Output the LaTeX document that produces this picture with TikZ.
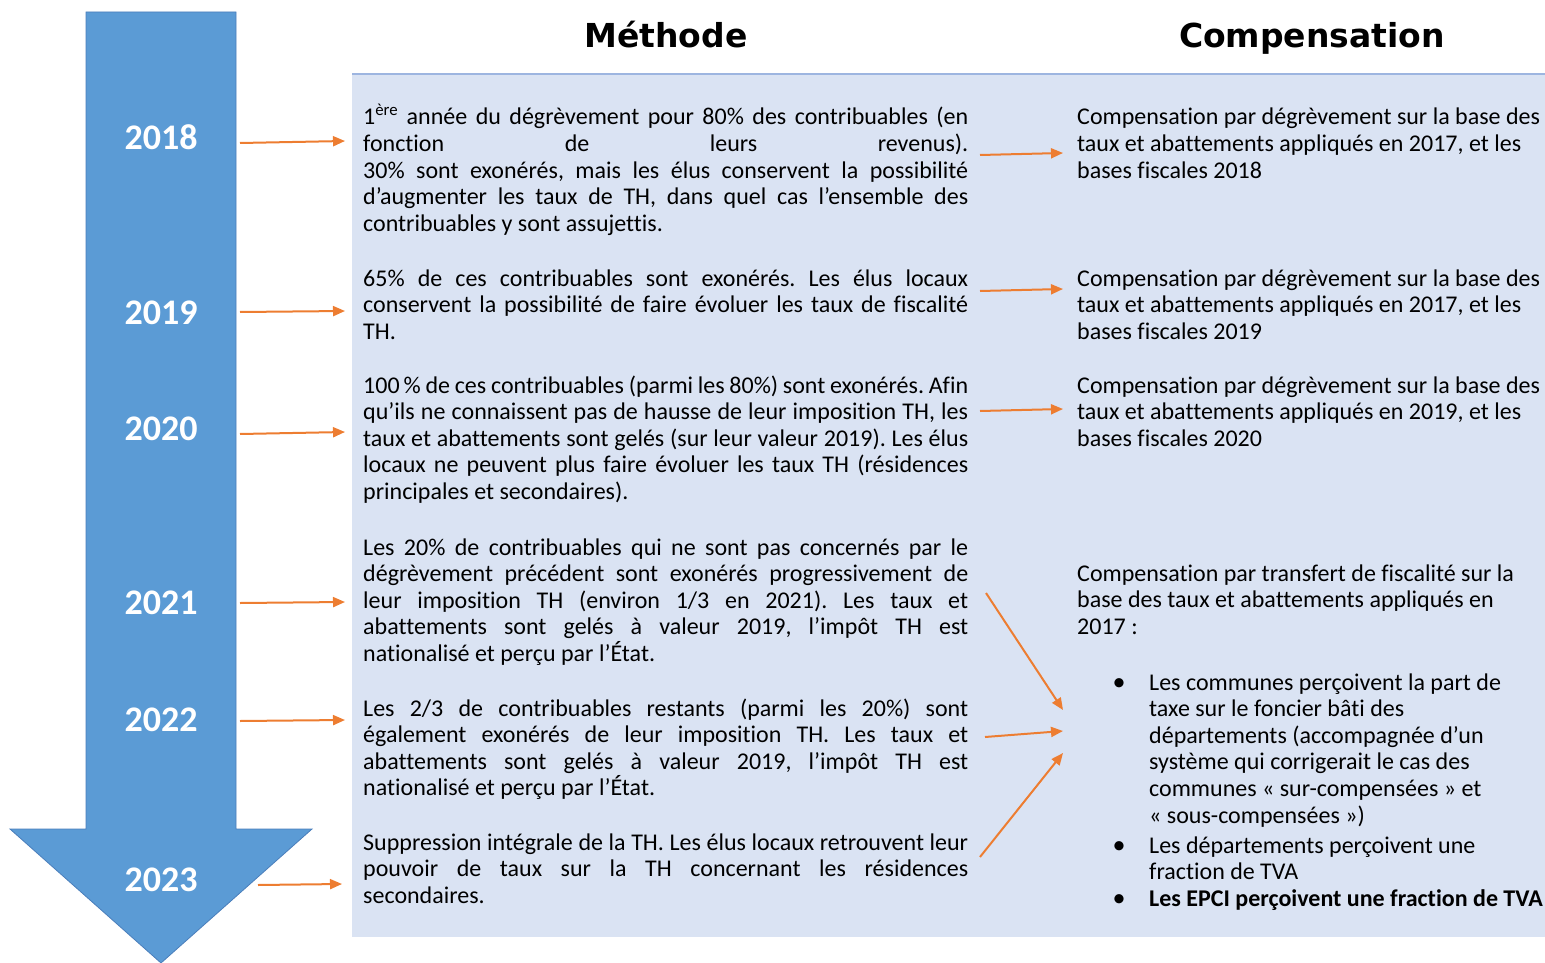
\documentclass[tikz,border=0pt]{standalone}
\usepackage{fontspec}
\setmainfont{Carlito}[Ligatures=NoCommon]
\newfontfamily\titlefont{DejaVu Sans}
\usetikzlibrary{arrows.meta}
\definecolor{arrowblue}{HTML}{5B9BD5}
\definecolor{arrowedge}{HTML}{4A7EBB}
\definecolor{panel}{HTML}{DAE3F3}
\definecolor{panelline}{HTML}{9DB5E0}
\definecolor{orangearr}{HTML}{ED7D31}
\newcommand\jl[1]{\makebox[605pt][s]{#1}\linebreak}
\begin{document}
\begin{tikzpicture}[x=1pt,y=-1pt,
  body/.style={anchor=base west, inner sep=0pt, align=justify, text width=#1,
    font=\fontsize{24}{26.6}\selectfont\frenchspacing, text=black},
  body/.default=605pt,
  yearlbl/.style={inner sep=0pt, text=white, font=\fontsize{36}{40}\selectfont\bfseries},
  coltitle/.style={anchor=base, inner sep=0pt, font=\titlefont\bfseries\fontsize{33}{38}\selectfont},
  bul/.style={anchor=base, inner sep=0pt, font=\fontsize{26}{28}\selectfont},
  oarr/.style={draw=orangearr, line width=2pt, -{Triangle[length=12pt,width=10pt]}}
]
\useasboundingbox (0,0) rectangle (1545,963);
% background panel
\fill[panel] (352,74) rectangle (1545,937);
\draw[panelline, line width=1.5pt] (352,74) -- (1545,74);
% timeline arrow
\draw[fill=arrowblue, draw=arrowedge, line width=0.8pt]
  (86,12) -- (236,12) -- (236,829) -- (312,829) -- (161,963) -- (10,829) -- (86,829) -- cycle;
% titles
\node[coltitle] (tm) at (666,48) {Méthode};
\node[coltitle] (tc) at (1312,48) {Compensation};
% years
\node[yearlbl] (y18) at (161,137) {2018};
\node[yearlbl] (y19) at (161,313) {2019};
\node[yearlbl] (y20) at (161,429) {2020};
\node[yearlbl] (y21) at (161,603) {2021};
\node[yearlbl] (y22) at (161,720) {2022};
\node[yearlbl] (y23) at (161,880) {2023};
% method texts
\node[body] (m1) at (363,125) {%
\jl{1\textsuperscript{ère} année du dégrèvement pour 80\% des contribuables (en}%
\jl{fonction de leurs revenus).}%
\jl{30\% sont exonérés, mais les élus conservent la possibilité}%
\jl{d’augmenter les taux de TH, dans quel cas l’ensemble des}%
contribuables y sont assujettis.};
\node[body] (m2) at (363,286) {%
\jl{65\% de ces contribuables sont exonérés. Les élus locaux}%
\jl{conservent la possibilité de faire évoluer les taux de fiscalité}%
TH.};
\node[body] (m3) at (363,393) {%
\jl{100\,\% de ces contribuables (parmi les 80\%) sont exonérés. Afin}%
\jl{qu’ils ne connaissent pas de hausse de leur imposition TH, les}%
\jl{taux et abattements sont gelés (sur leur valeur 2019). Les élus}%
\jl{locaux ne peuvent plus faire évoluer les taux TH (résidences}%
principales et secondaires).};
\node[body] (m4) at (363,555) {%
\jl{Les 20\% de contribuables qui ne sont pas concernés par le}%
\jl{dégrèvement précédent sont exonérés progressivement de}%
\jl{leur imposition TH (environ 1/3 en 2021). Les taux et}%
\jl{abattements sont gelés à valeur 2019, l’impôt TH est}%
nationalisé et perçu par l’État.};
\node[body] (m5) at (363,716) {%
\jl{Les 2/3 de contribuables restants (parmi les 20\%) sont}%
\jl{également exonérés de leur imposition TH. Les taux et}%
\jl{abattements sont gelés à valeur 2019, l’impôt TH est}%
nationalisé et perçu par l’État.};
\node[body] (m6) at (363,850) {%
\jl{Suppression intégrale de la TH. Les élus locaux retrouvent leur}%
\jl{pouvoir de taux sur la TH concernant les résidences}%
secondaires.};
% compensation texts
\node[body=560pt] (c1) at (1077,125) {Compensation par dégrèvement sur la base des\\
taux et abattements appliqués en 2017, et les\\ bases fiscales 2018};
\node[body=560pt] (c2) at (1077,286) {Compensation par dégrèvement sur la base des\\
taux et abattements appliqués en 2017, et les\\ bases fiscales 2019};
\node[body=560pt] (c3) at (1077,393) {Compensation par dégrèvement sur la base des\\
taux et abattements appliqués en 2019, et les\\ bases fiscales 2020};
\node[body=560pt] (c4) at (1077,581) {Compensation par transfert de fiscalité sur la\\
base des taux et abattements appliqués en\\ 2017 :};
\node[bul] (b1) at (1119,690) {•};
\node[body=480pt] (c5) at (1149,690) {Les communes perçoivent la part de\\
taxe sur le foncier bâti des\\ départements (accompagnée d’un\\
système qui corrigerait le cas des\\ communes « sur-compensées » et\\
« sous-compensées »)};
\node[bul] (b2) at (1119,853) {•};
\node[body=480pt] (c6) at (1149,853) {Les départements perçoivent une\\ fraction de TVA};
\node[bul] (b3) at (1119,906) {•};
\node[body=480pt] (c7) at (1149,906) {\textbf{Les EPCI perçoivent une fraction de TVA}};
% connector end points
\coordinate (a1s) at (240,143); \coordinate (a1e) at (345,141);
\coordinate (a2s) at (240,312); \coordinate (a2e) at (345,311);
\coordinate (a3s) at (240,434); \coordinate (a3e) at (345,432);
\coordinate (a4s) at (240,603); \coordinate (a4e) at (345,602);
\coordinate (a5s) at (240,721); \coordinate (a5e) at (345,720);
\coordinate (a6s) at (258,885); \coordinate (a6e) at (342,884);
\coordinate (a7s) at (980,155); \coordinate (a7e) at (1063,153);
\coordinate (a8s) at (980,291); \coordinate (a8e) at (1063,289);
\coordinate (a9s) at (980,411); \coordinate (a9e) at (1063,409);
\coordinate (a10s) at (986,593); \coordinate (a10e) at (1063,710);
\coordinate (a11s) at (985,737); \coordinate (a11e) at (1063,731);
\coordinate (a12s) at (980,857); \coordinate (a12e) at (1063,753);
\foreach \i in {1,...,12} {\draw[oarr] (a\i s) -- (a\i e);}
\end{tikzpicture}
\end{document}
